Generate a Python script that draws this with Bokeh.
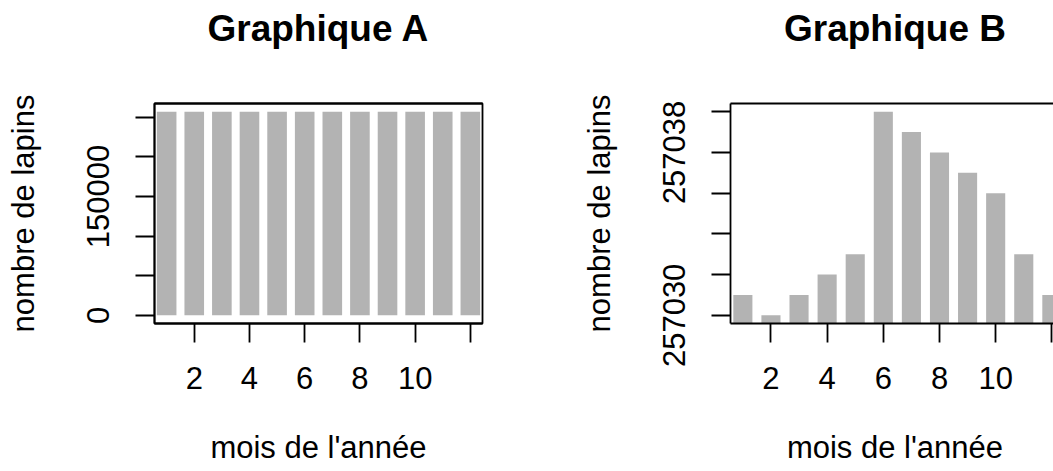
from bokeh.plotting import figure
from bokeh.models import ColumnDataSource, FixedTicker, LinearAxis, Range1d
from bokeh.layouts import row
from bokeh.embed import file_html
from bokeh.resources import INLINE

# Data
mois = [1, 2, 3, 4, 5, 6, 7, 8, 9, 10, 11, 12]
lapins = [257031, 257030, 257031, 257032, 257033, 257040,
          257039, 257038, 257037, 257036, 257033, 257031]

titres = ["Graphique A", "Graphique B"]
x_ticks = [2, 4, 6, 8, 10, 12]
x_labels = {12: ""}
ya_ticks = [0, 50000, 100000, 150000, 200000, 250000]
ya_labels = {0: "0", 50000: "", 100000: "", 150000: "150000", 200000: "", 250000: ""}
yb_ticks = [257030, 257032, 257034, 257036, 257038, 257040]
yb_labels = {257030: "257030", 257032: "", 257034: "", 257036: "", 257038: "257038", 257040: ""}

FONT = "Liberation Sans"
FS = "31px"
LW = 1.8
BAR = "#b3b3b3"

source = ColumnDataSource(dict(mois=mois, lapins=lapins))


def style_axes(p, titre):
    for ax in (p.xaxis[0], p.yaxis[0]):
        ax.axis_line_color = "black"
        ax.axis_line_width = LW
        ax.major_tick_line_color = "black"
        ax.major_tick_line_width = LW
        ax.major_tick_out = 19
        ax.major_tick_in = 0
        ax.minor_tick_line_color = None
        ax.major_label_text_font = FONT
        ax.major_label_text_font_size = FS
        ax.major_label_text_color = "black"
        ax.axis_label_text_font = FONT
        ax.axis_label_text_font_size = FS
        ax.axis_label_text_font_style = "normal"
        ax.axis_label_text_color = "black"
    p.xaxis[0].major_label_standoff = 24
    p.xaxis[0].axis_label_standoff = 38
    p.yaxis[0].major_label_standoff = 26
    p.yaxis[0].major_label_orientation = "vertical"
    p.yaxis[0].axis_label_standoff = 44
    p.xaxis[0].ticker = FixedTicker(ticks=x_ticks)
    p.xaxis[0].major_label_overrides = x_labels
    p.grid.visible = False
    p.xaxis[0].axis_label = "mois de l'année"
    p.yaxis[0].axis_label = "nombre de lapins"
    # top edge of the box, carrying the title
    top_axis = LinearAxis(ticker=FixedTicker(ticks=[]), major_tick_out=0, major_tick_in=0,
                          minor_tick_line_color=None, major_label_text_font_size="0px",
                          axis_line_color="black", axis_line_width=LW,
                          axis_label=titre, axis_label_text_font=FONT,
                          axis_label_text_font_size="37px", axis_label_text_font_style="bold",
                          axis_label_text_color="black", axis_label_standoff=55)
    p.add_layout(top_axis, "above")


pa = figure(output_backend="svg", toolbar_location=None,
            frame_width=328, frame_height=220,
            min_border_left=154, min_border_right=96, min_border_top=103, min_border_bottom=148,
            x_range=Range1d(0.56, 12.44), y_range=Range1d(-10281.6, 267321.6))
pa.vbar(x="mois", top="lapins", bottom=0, width=0.71, source=source,
        fill_color=BAR, line_color=None)
style_axes(pa, titres[0])
pa.yaxis[0].ticker = FixedTicker(ticks=ya_ticks)
pa.yaxis[0].major_label_overrides = ya_labels
pa.outline_line_color = "black"
pa.outline_line_width = LW
pa.outline_line_alpha = 1.0

pb = figure(output_backend="svg", toolbar_location=None,
            frame_width=329, frame_height=220,
            min_border_left=146, min_border_right=0, min_border_top=103, min_border_bottom=148,
            x_range=Range1d(0.56, 12.272), y_range=Range1d(257029.6, 257040.4))
pb.vbar(x="mois", top="lapins", bottom=0, width=0.68, source=source,
        fill_color=BAR, line_color=None)
style_axes(pb, titres[1])
pb.yaxis[0].ticker = FixedTicker(ticks=yb_ticks)
pb.yaxis[0].major_label_overrides = yb_labels
pb.outline_line_color = None

layout = row(pa, pb)
open("out.html", "w").write(file_html(layout, INLINE))
